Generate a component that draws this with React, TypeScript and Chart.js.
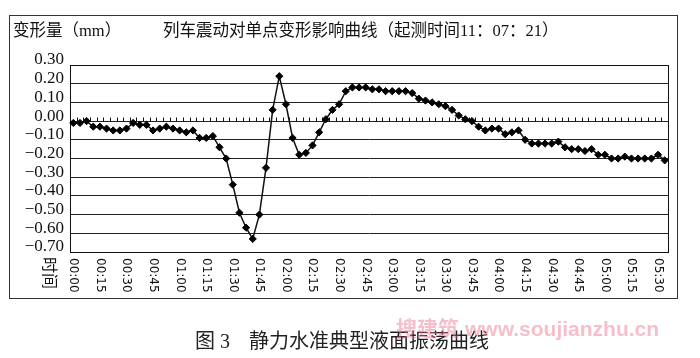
import { useEffect, useRef } from "react";
import { Chart, registerables } from "chart.js";

Chart.register(...registerables);

// ---- data ----
const tickLabels = [
  "00:00", "00:15", "00:30", "00:45", "01:00", "01:15", "01:30", "01:45",
  "02:00", "02:15", "02:30", "02:45", "03:00", "03:15", "03:30", "03:45",
  "04:00", "04:15", "04:30", "04:45", "05:00", "05:15", "05:30",
];
const pointsPerLabel = 4;

const values = [
  -0.01, -0.01, 0.0, -0.03, -0.03, -0.04, -0.05, -0.05, -0.04, -0.01,
  -0.02, -0.02, -0.05, -0.04, -0.03, -0.04, -0.05, -0.06, -0.05, -0.09,
  -0.09, -0.08, -0.14, -0.2, -0.34, -0.49, -0.57, -0.63, -0.5, -0.25,
  0.06, 0.24, 0.09, -0.09, -0.18, -0.17, -0.13, -0.06, 0.01, 0.06,
  0.09, 0.16, 0.18, 0.18, 0.18, 0.17, 0.17, 0.16, 0.16, 0.16,
  0.16, 0.15, 0.12, 0.11, 0.1, 0.09, 0.08, 0.06, 0.03, 0.01,
  0.0, -0.03, -0.05, -0.04, -0.04, -0.07, -0.06, -0.05, -0.1, -0.12,
  -0.12, -0.12, -0.12, -0.11, -0.14, -0.15, -0.15, -0.16, -0.15, -0.18,
  -0.18, -0.2, -0.2, -0.19, -0.2, -0.2, -0.2, -0.2, -0.18, -0.21,
];

const yMin = -0.7;
const yMax = 0.3;
const yStep = 0.1;

const categories = values.map((_, i) =>
  i % pointsPerLabel === 0 ? tickLabels[i / pointsPerLabel] ?? "" : ""
);

const titleLeft = "变形量（mm）";
const titleMain = "列车震动对单点变形影响曲线（起测时间11：07：21）";
const xAxisName = "时间";
const captionNo = "图 3";
const captionText = "静力水准典型液面振荡曲线";
const watermarkCn = "搜建筑";
const watermarkUrl = "www.soujianzhu.cn";

const decorPlugin = {
  id: "decor",
  beforeDatasetsDraw(chart: any) {
    const { ctx, chartArea: a, scales } = chart;
    const x = scales.x;
    const y = scales.y;
    ctx.save();
    // zero-line tick marks (between categories)
    const y0 = Math.round(y.getPixelForValue(0)) + 0.5;
    ctx.strokeStyle = "#111";
    ctx.lineWidth = 1;
    ctx.beginPath();
    for (let i = 1; i < values.length; i++) {
      const px = Math.round((x.getPixelForValue(i - 1) + x.getPixelForValue(i)) / 2) + 0.5;
      ctx.moveTo(px, y0);
      ctx.lineTo(px, y0 - 4);
    }
    ctx.stroke();
    // plot border
    ctx.strokeRect(
      Math.round(a.left) + 0.5,
      Math.round(a.top) + 0.5,
      Math.round(a.right - a.left),
      Math.round(a.bottom - a.top)
    );
    ctx.restore();
  },
  afterDraw(chart: any) {
    const { ctx, chartArea: a, scales } = chart;
    const x = scales.x;
    ctx.save();
    ctx.fillStyle = "#111";
    ctx.textAlign = "left";
    ctx.textBaseline = "middle";
    ctx.font = "12px 'DejaVu Sans'";
    categories.forEach((lab, i) => {
      if (!lab) return;
      const px = x.getPixelForValue(i);
      ctx.save();
      ctx.translate(px, a.bottom + 6);
      ctx.rotate(Math.PI / 2);
      ctx.fillText(lab, 0, 0);
      ctx.restore();
    });
    ctx.font = "16px 'Noto Sans CJK SC'";
    ctx.save();
    ctx.translate(50, a.bottom + 5);
    ctx.rotate(Math.PI / 2);
    ctx.fillText(xAxisName, 0, 0);
    ctx.restore();
    // outer frame
    ctx.strokeStyle = "#333";
    ctx.lineWidth = 1;
    ctx.strokeRect(9.5, 15.5, 668, 283);
    ctx.restore();
  },
};

export default function App() {
  const ref = useRef<HTMLCanvasElement | null>(null);

  useEffect(() => {
    if (!ref.current) return;
    const chart = new Chart(ref.current, {
      type: "line",
      data: {
        labels: categories,
        datasets: [
          {
            data: values,
            borderColor: "#111",
            borderWidth: 1.5,
            tension: 0,
            pointStyle: "rectRot",
            pointRadius: 3.6,
            pointBackgroundColor: "#000",
            pointBorderColor: "#000",
            pointBorderWidth: 1,
            fill: false,
          },
        ],
      },
      options: {
        responsive: false,
        animation: false,
        devicePixelRatio: 1,
        layout: { padding: { left: 0, top: 65, right: 32, bottom: 106 } },
        plugins: {
          legend: { display: false },
          tooltip: { enabled: false },
          title: { display: false },
        },
        scales: {
          x: {
            type: "category",
            offset: true,
            grid: { display: false },
            border: { display: false },
            ticks: { display: false },
            afterFit: (s: any) => {
              s.height = 0;
            },
          },
          y: {
            min: yMin,
            max: yMax,
            afterFit: (s: any) => {
              s.width = 70;
            },
            grid: { color: "#222", lineWidth: 1, drawTicks: false },
            border: { display: true, color: "#111" },
            ticks: {
              stepSize: yStep,
              autoSkip: false,
              padding: 6,
              labelOffset: -5,
              color: "#111",
              font: { family: "'Liberation Serif'", size: 17 },
              callback: (v: any) => {
                const n = Number(v);
                if (Math.abs(n) < 1e-9) return "0.00";
                return n < 0 ? "\u2212" + Math.abs(n).toFixed(2) : n.toFixed(2);
              },
            },
          },
        },
      },
      plugins: [decorPlugin],
    });
    return () => chart.destroy();
  }, []);

  const serif = "'Liberation Serif', 'Noto Sans CJK SC', serif";
  return (
    <div
      style={{
        position: "fixed",
        left: 0,
        top: 0,
        width: 700,
        height: 358,
        background: "#fff",
        overflow: "hidden",
      }}
    >
      <canvas ref={ref} width={700} height={358} style={{ display: "block", width: 700, height: 358 }} />
      <div
        style={{
          position: "absolute",
          left: 13,
          top: 20,
          fontFamily: serif,
          fontSize: 16.5,
          lineHeight: "22px",
          color: "#111",
          whiteSpace: "nowrap",
        }}
      >
        {titleLeft}
      </div>
      <div
        style={{
          position: "absolute",
          left: 163,
          top: 20,
          fontFamily: serif,
          fontSize: 16.5,
          lineHeight: "22px",
          color: "#111",
          whiteSpace: "nowrap",
        }}
      >
        {titleMain}
      </div>
      <div
        style={{
          position: "absolute",
          left: 195,
          top: 328,
          fontFamily: serif,
          fontSize: 20,
          lineHeight: "26px",
          color: "#222",
          whiteSpace: "nowrap",
        }}
      >
        <span>{captionNo}</span>
        <span style={{ position: "absolute", left: 54 }}>{captionText}</span>
      </div>
      <div
        style={{
          position: "absolute",
          left: 396,
          top: 314,
          fontSize: 21,
          lineHeight: "26px",
          fontWeight: 700,
          color: "rgba(236, 110, 140, 0.45)",
          whiteSpace: "nowrap",
        }}
      >
        <span style={{ fontFamily: "'Noto Sans CJK SC'" }}>{watermarkCn}</span>
        <span style={{ fontFamily: "'Liberation Sans'", marginLeft: 6 }}>{watermarkUrl}</span>
      </div>
    </div>
  );
}
